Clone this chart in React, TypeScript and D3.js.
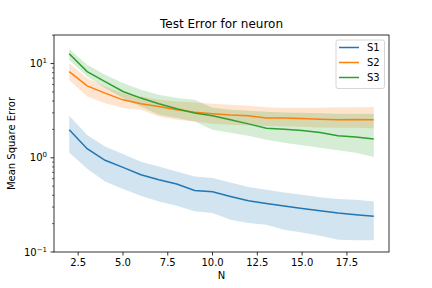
import * as d3 from "d3";
import { useEffect } from "react";

// N values
const nValues = [2, 3, 4, 5, 6, 7, 8, 9, 10, 11, 12, 13, 14, 15, 16, 17, 18, 19];

// S1 mean + band
const s1Mean = [1.98, 1.25, 0.94, 0.79, 0.66, 0.585, 0.527, 0.45, 0.436, 0.389, 0.35, 0.327, 0.307, 0.29, 0.274, 0.259, 0.249, 0.239];
const s1Upper = [2.79, 1.75, 1.32, 1.1, 0.91, 0.81, 0.716, 0.634, 0.61, 0.547, 0.489, 0.458, 0.428, 0.405, 0.38, 0.365, 0.359, 0.344];
const s1Lower = [1.14, 0.765, 0.561, 0.466, 0.395, 0.344, 0.31, 0.27, 0.259, 0.22, 0.203, 0.195, 0.172, 0.161, 0.149, 0.135, 0.133, 0.133];

// S2
const s2Mean = [8.22, 5.8, 4.85, 4.12, 3.74, 3.5, 3.23, 3.05, 2.93, 2.84, 2.79, 2.64, 2.64, 2.61, 2.57, 2.53, 2.55, 2.53];
const s2Upper = [10.1, 7.0, 5.7, 4.85, 4.47, 4.12, 3.95, 3.86, 3.74, 3.65, 3.56, 3.43, 3.39, 3.39, 3.39, 3.43, 3.43, 3.45];
const s2Lower = [6.7, 4.47, 3.8, 3.37, 3.23, 2.74, 2.53, 2.43, 2.29, 2.24, 2.21, 2.18, 2.16, 2.13, 2.1, 2.08, 2.08, 2.06];

// S3
const s3Mean = [12.7, 8.22, 6.44, 5.05, 4.3, 3.74, 3.31, 2.98, 2.79, 2.53, 2.29, 2.06, 2.01, 1.95, 1.85, 1.71, 1.66, 1.58];
const s3Upper = [14.3, 9.7, 7.6, 6.2, 5.26, 4.66, 4.3, 4.12, 3.39, 3.23, 3.15, 3.07, 3.03, 3.0, 2.96, 2.93, 2.93, 2.93];
const s3Lower = [10.9, 7.3, 5.5, 4.3, 3.5, 2.86, 2.64, 2.43, 1.98, 1.84, 1.71, 1.55, 1.44, 1.36, 1.28, 1.2, 1.13, 1.02];

const seriesNames = ["S1", "S2", "S3"];
const colors = ["#1f77b4", "#ff7f0e", "#2ca02c"];

const xTicks = [2.5, 5.0, 7.5, 10.0, 12.5, 15.0, 17.5];
const yMajor = [-1, 0, 1]; // exponents

const W = 432;
const H = 288;
const margin = { left: 54, right: 43, top: 35, bottom: 36 };
const font = "DejaVu Sans, sans-serif";

const App = () => {
  useEffect(() => {
    document.body.style.margin = "0";
  }, []);

  const x = d3.scaleLinear().domain([1.15, 19.85]).range([margin.left, W - margin.right]);
  const y = d3.scaleLog().domain([0.1, Math.pow(10, 1.303)]).range([H - margin.bottom, margin.top]);

  const series = [
    { mean: s1Mean, lo: s1Lower, hi: s1Upper },
    { mean: s2Mean, lo: s2Lower, hi: s2Upper },
    { mean: s3Mean, lo: s3Lower, hi: s3Upper },
  ];

  const area = d3
    .area<number>()
    .x((_, i) => x(nValues[i]))
    .y0((d) => y(d))
    .y1((_, i) => y(0)); // placeholder, overwritten below

  const line = d3
    .line<number>()
    .x((_, i) => x(nValues[i]))
    .y((d) => y(d));

  // minor ticks
  const minor: number[] = [];
  for (const e of [-1, 0, 1]) {
    for (let k = 2; k <= 9; k++) {
      const v = k * Math.pow(10, e);
      if (v <= y.domain()[1]) minor.push(v);
    }
  }

  const left = margin.left;
  const right = W - margin.right;
  const top = margin.top;
  const bottom = H - margin.bottom;

  return (
    <svg width={W} height={H} style={{ position: "fixed", left: 0, top: 0, background: "#fff" }} fontFamily={font}>
      <rect x={0} y={0} width={W} height={H} fill="#fff" />
      <defs>
        <clipPath id="plot">
          <rect x={left} y={top} width={right - left} height={bottom - top} />
        </clipPath>
      </defs>
      <g clipPath="url(#plot)">
        {series.map((s, k) => {
          const a = d3
            .area<number>()
            .x((_, i) => x(nValues[i]))
            .y0((_, i) => y(s.lo[i]))
            .y1((_, i) => y(s.hi[i]));
          return <path key={"a" + k} d={a(s.mean) || ""} fill={colors[k]} fillOpacity={0.2} stroke="none" />;
        })}
        {series.map((s, k) => (
          <path key={"l" + k} d={line(s.mean) || ""} fill="none" stroke={colors[k]} strokeWidth={1.5} />
        ))}
      </g>

      {/* x axis ticks */}
      {xTicks.map((t) => (
        <g key={"x" + t} transform={`translate(${x(t)},${bottom})`}>
          <line y1={0} y2={3.5} stroke="#000" strokeWidth={0.8} />
          <text y={14} textAnchor="middle" fontSize={10} fill="#000">
            {t.toFixed(1)}
          </text>
        </g>
      ))}

      {/* y axis minor ticks */}
      {minor.map((v) => (
        <line key={"m" + v} x1={left - 2} x2={left} y1={y(v)} y2={y(v)} stroke="#000" strokeWidth={0.6} />
      ))}
      {yMajor.map((e) => (
        <g key={"y" + e} transform={`translate(${left},${y(Math.pow(10, e))})`}>
          <line x1={-3.5} x2={0} stroke="#000" strokeWidth={0.8} />
          <text x={-7} y={3.5} textAnchor="end" fontSize={10} fill="#000">
            10
            <tspan dy={-4} fontSize={7}>
              {e < 0 ? "\u2212" + Math.abs(e) : String(e)}
            </tspan>
          </text>
        </g>
      ))}

      {/* frame */}
      <rect x={left} y={top} width={right - left} height={bottom - top} fill="none" stroke="#000" strokeWidth={0.8} />

      {/* labels */}
      <text x={(left + right) / 2} y={top - 7} textAnchor="middle" fontSize={12} fill="#000">
        Test Error for neuron
      </text>
      <text x={(left + right) / 2} y={H - 9} textAnchor="middle" fontSize={10} fill="#000">
        N
      </text>
      <text
        transform={`translate(15,${(top + bottom) / 2}) rotate(-90)`}
        textAnchor="middle"
        fontSize={10}
        fill="#000"
      >
        Mean Square Error
      </text>

      {/* legend */}
      <g transform={`translate(${right - 53},${top + 5})`}>
        <rect x={0} y={0} width={48.5} height={48.5} rx={2} fill="#fff" fillOpacity={0.8} stroke="#ccc" strokeWidth={0.8} />
        {seriesNames.map((name, i) => (
          <g key={name} transform={`translate(0,${7.5 + i * 15})`}>
            <line x1={3} x2={23} y1={0} y2={0} stroke={colors[i]} strokeWidth={1.5} />
            <text x={31} y={3.5} fontSize={10} fill="#000">
              {name}
            </text>
          </g>
        ))}
      </g>
    </svg>
  );
};

export default App;
